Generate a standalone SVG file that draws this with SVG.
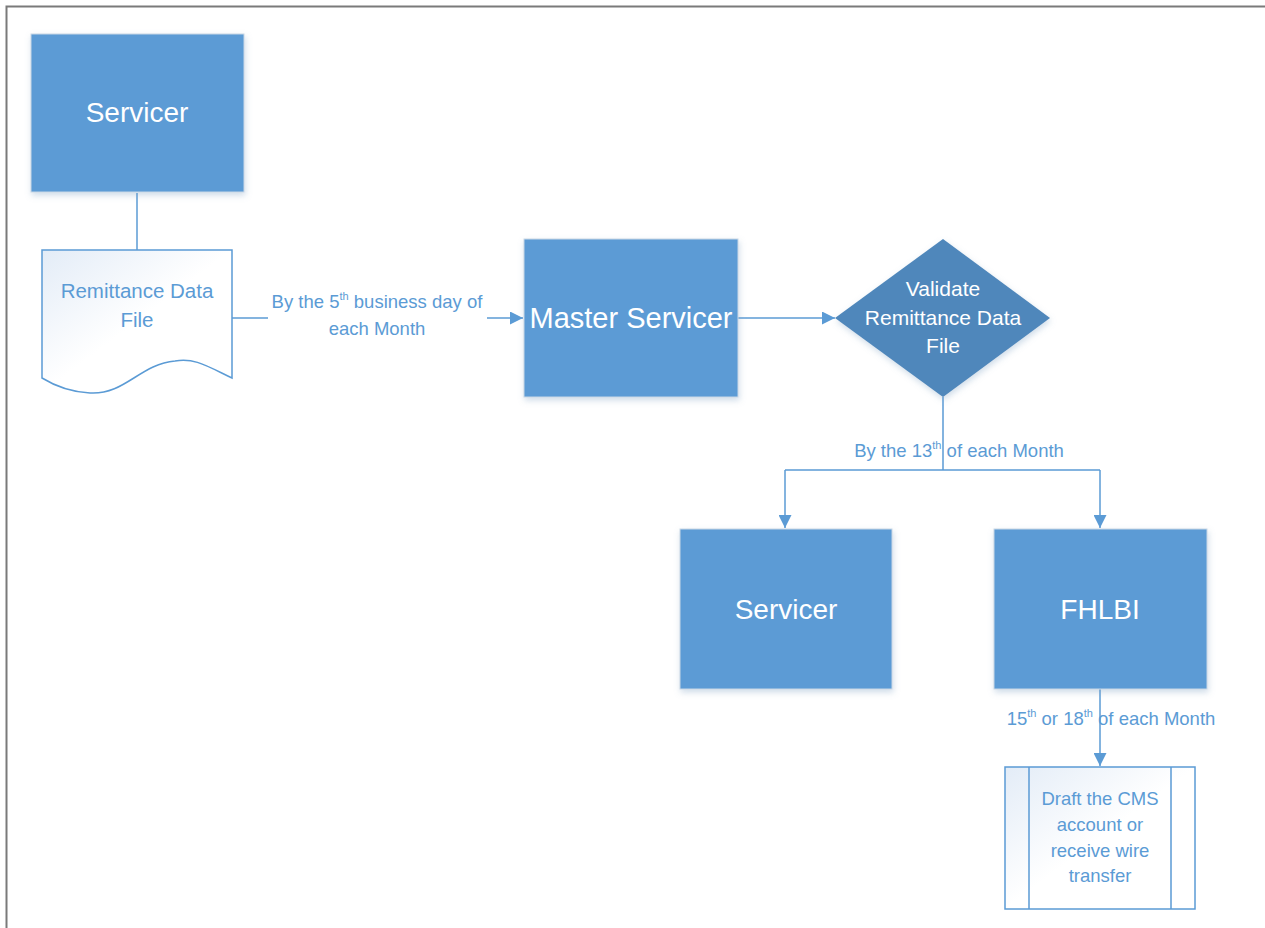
<svg xmlns="http://www.w3.org/2000/svg" width="1265" height="928" viewBox="0 0 1265 928">
<defs>
<style>
.box{fill:#5B9BD5;stroke:#C9D7E6;stroke-width:1;filter:url(#sh)}
.wt{fill:#FFFFFF;font-family:"Liberation Sans",Arial,sans-serif;text-anchor:middle}
.bt{fill:#5B9BD5;font-family:"Liberation Sans",Arial,sans-serif;text-anchor:middle}
.lbl{fill:#5B9BD5;font-family:"Liberation Sans",Arial,sans-serif;font-size:18.5px;text-anchor:middle}
.con{fill:none;stroke:#5B9BD5;stroke-width:1.5}
.arr{fill:none;stroke:#5B9BD5;stroke-width:1.5;marker-end:url(#ah)}
.out{fill:url(#lg);stroke:#5B9BD5;stroke-width:1.5}
</style>
<marker id="ah" viewBox="0 0 10 10" refX="10" refY="5" markerWidth="13" markerHeight="13" markerUnits="userSpaceOnUse" orient="auto">
<path d="M0,0 L10,5 L0,10 z" fill="#5B9BD5"/>
</marker>
<linearGradient id="lg" x1="0" y1="0" x2="1" y2="1">
<stop offset="0" stop-color="#E3ECF7"/>
<stop offset="0.5" stop-color="#FFFFFF"/>
<stop offset="1" stop-color="#FFFFFF"/>
</linearGradient>
<filter id="sh" x="-10%" y="-10%" width="125%" height="125%">
<feDropShadow dx="1" dy="3" stdDeviation="3" flood-color="#7A9CC0" flood-opacity="0.35"/>
</filter>
</defs>
<rect width="1265" height="928" fill="#FFFFFF"/>
<path d="M6.5,928 L6.5,6.5 L1265,6.5" fill="none" stroke="#7A7A7A" stroke-width="2"/>

<g id="connectors">
<path class="con" d="M137,193 L137,250"/>
<path class="con" d="M232,318 L268,318"/>
<path class="arr" d="M487,318 L523,318"/>
<path class="arr" d="M738,318 L835,318"/>
<path class="con" d="M943,397 L943,470 M785,470 L1100,470"/>
<path class="arr" d="M785,470 L785,528"/>
<path class="arr" d="M1100,470 L1100,528"/>
<path class="arr" d="M1100,689 L1100,766"/>
<text class="lbl" x="377" y="308">By the 5<tspan font-size="11" dy="-8">th</tspan><tspan dy="8"> business day of</tspan></text>
<text class="lbl" x="377" y="335">each Month</text>
<text class="lbl" x="959" y="457">By the 13<tspan font-size="11" dy="-8">th</tspan><tspan dy="8"> of each Month</tspan></text>
<text class="lbl" x="1111" y="725">15<tspan font-size="11" dy="-8">th</tspan><tspan dy="8"> or 18</tspan><tspan font-size="11" dy="-8">th</tspan><tspan dy="8"> of each Month</tspan></text>
</g>

<g id="servicer-top">
<rect class="box" x="31" y="34" width="213" height="158"/>
<text class="wt" x="137" y="122" font-size="28">Servicer</text>
</g>

<g id="remittance-file">
<path class="out" d="M42,250 L232,250 L232,378 C205,365 195,358 175,361 C140,364 125,395 90,393 C70,392 55,386 42,378 Z"/>
<text class="bt" x="137" y="298" font-size="20.5">Remittance Data</text>
<text class="bt" x="137" y="327" font-size="20.5">File</text>
</g>

<g id="master-servicer">
<rect class="box" x="524" y="239" width="214" height="158"/>
<text class="wt" x="631" y="328" font-size="29">Master Servicer</text>
</g>

<g id="validate">
<path d="M835,318 L943,239 L1050,318 L943,397 Z" fill="#4F87BB" filter="url(#sh)"/>
<text class="wt" x="943" y="296" font-size="21">Validate</text>
<text class="wt" x="943" y="325" font-size="21">Remittance Data</text>
<text class="wt" x="943" y="353" font-size="21">File</text>
</g>

<g id="servicer-bottom">
<rect class="box" x="680" y="529" width="212" height="160"/>
<text class="wt" x="786" y="619" font-size="28">Servicer</text>
</g>

<g id="fhlbi">
<rect class="box" x="994" y="529" width="213" height="160"/>
<text class="wt" x="1100" y="619" font-size="28">FHLBI</text>
</g>

<g id="draft">
<rect class="out" x="1005" y="767" width="190" height="142"/>
<path class="con" d="M1029,767 L1029,909 M1171,767 L1171,909"/>
<text class="bt" x="1100" y="805" font-size="18.5">Draft the CMS</text>
<text class="bt" x="1100" y="831" font-size="18.5">account or</text>
<text class="bt" x="1100" y="857" font-size="18.5">receive wire</text>
<text class="bt" x="1100" y="882" font-size="18.5">transfer</text>
</g>
</svg>
